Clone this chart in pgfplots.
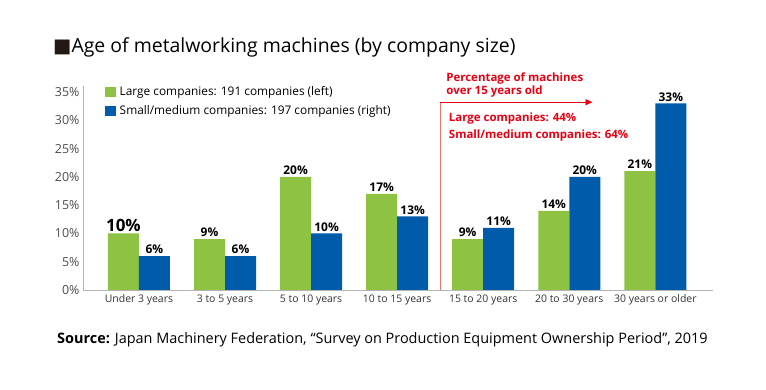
\documentclass[border=0pt]{standalone}
\usepackage{pgfplots}
\pgfplotsset{compat=1.18}
\usepackage{fontspec}
\setmainfont{Open Sans}
\newfontfamily\dejavu{DejaVu Sans}
\usetikzlibrary{arrows.meta}
\definecolor{cgreen}{HTML}{8DC243}
\definecolor{cblue}{HTML}{005BAA}
\definecolor{cred}{HTML}{E60012}
\definecolor{cline}{HTML}{E8776E}
\definecolor{axgray}{HTML}{B4B4B4}
\protected\def\bigten{{\fontsize{17}{17}\selectfont 10\%}}
\begin{document}
\begin{tikzpicture}
\path[use as bounding box] (0,0) rectangle (766bp,390bp);
\node[anchor=west, inner sep=0, font=\fontsize{19.5}{19.5}\selectfont] at (53bp,343bp) {{\dejavu\color[HTML]{231815}■}Age of metalworking machines (by company size)};
\begin{axis}[
 at={(83bp,100bp)}, anchor=south west, scale only axis, width=630bp, height=203.6bp,
 xmin=-0.65, xmax=6.67, ymin=0, ymax=36, clip=false,
 axis x line*=bottom, axis y line*=left, axis line style={axgray, line width=0.8bp},
 ybar=0pt, bar width=31bp,
 xtick={0,...,6},
 xticklabels={Under 3 years, 3 to 5 years, 5 to 10 years, 10 to 15 years, 15 to 20 years, 20 to 30 years, 30 years or older},
 ytick={0,5,...,35}, yticklabel={\pgfmathprintnumber{\tick}\%},
 major tick length=0pt,
 xticklabel style={font=\fontsize{10.5}{10.5}\selectfont, text=black!80, yshift=-1bp},
 yticklabel style={font=\fontsize{12.5}{12.5}\selectfont, text=black!70},
 /pgf/number format/assume math mode=true,
 point meta=explicit symbolic,
 nodes near coords,
 nodes near coords style={font=\bfseries\fontsize{12}{12}\selectfont, anchor=south, inner sep=2bp, text=black},
 legend image code/.code={\fill[#1] (0bp,-5bp) rectangle (11bp,5bp);},
 legend style={at={(0.035,1.01)}, anchor=north west, draw=none, fill=none, font=\fontsize{11.9}{11.9}\selectfont, row sep=4.5bp, column sep=1.5bp, inner sep=0pt},
 legend cell align=left,
]
\addplot[fill=cgreen, draw=none] coordinates {(0,10)[\bigten] (1,9)[9\%] (2,20)[20\%] (3,17)[17\%] (4,9)[9\%] (5,14)[14\%] (6,21)[21\%]};
\addplot[fill=cblue, draw=none] coordinates {(0,6)[6\%] (1,6)[6\%] (2,10)[10\%] (3,13)[13\%] (4,11)[11\%] (5,20)[20\%] (6,33)[33\%]};
\legend{Large companies: 191 companies (left), Small/medium companies: 197 companies (right)}
\draw[cline, line width=0.9bp] (axis cs:3.5,0) -- (axis cs:3.5,33.2);
\draw[cred, line width=0.9bp, -{Triangle[length=7bp,width=6bp]}] (axis cs:3.5,33.2) -- (axis cs:5.27,33.2);
\node[anchor=south west, align=left, text=cred, font=\bfseries\fontsize{11.5}{13}\selectfont, inner sep=0] at (axis cs:3.57,34.0) {Percentage of machines\\over 15 years old};
\node[anchor=west, text=cred, font=\bfseries\fontsize{11.5}{11.5}\selectfont, inner sep=0] at (axis cs:3.6,30.4) {Large companies: 44\%};
\node[anchor=west, text=cred, font=\bfseries\fontsize{11.5}{11.5}\selectfont, inner sep=0] at (axis cs:3.6,27.4) {Small/medium companies: 64\%};
\end{axis}
\node[anchor=west, inner sep=0, font=\fontsize{14.5}{14.5}\selectfont] at (57bp,50bp) {\textbf{Source:} Japan Machinery Federation, “Survey on Production Equipment Ownership Period”, 2019};
\end{tikzpicture}
\end{document}
